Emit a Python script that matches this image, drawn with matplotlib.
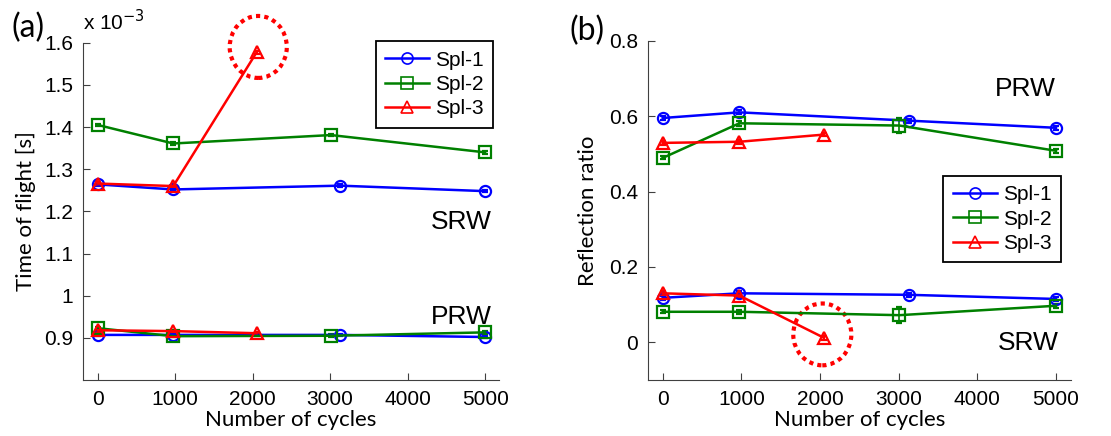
"""Time of flight and reflection ratio versus number of cycles for three samples."""

import matplotlib.pyplot as plt
from matplotlib.lines import Line2D
from matplotlib.patches import Ellipse

# Data (time of flight in units of 1e-3 s)
x_spl1 = [0, 975, 3130, 5000]
x_spl2 = [0, 975, 3010, 5000]
x_spl3 = [0, 975, 2050]

tof_srw_spl1 = [1.264, 1.252, 1.261, 1.248]
tof_srw_spl2 = [1.405, 1.361, 1.381, 1.340]
tof_srw_spl3 = [1.266, 1.260, 1.577]
tof_prw_spl1 = [0.907, 0.907, 0.907, 0.902]
tof_prw_spl2 = [0.923, 0.904, 0.905, 0.913]
tof_prw_spl3 = [0.918, 0.916, 0.911]

rr_prw_spl1 = [0.595, 0.610, 0.588, 0.569]
rr_prw_spl2 = [0.489, 0.581, 0.575, 0.508]
rr_prw_spl3 = [0.529, 0.532, 0.551]
rr_srw_spl1 = [0.118, 0.130, 0.126, 0.115]
rr_srw_spl2 = [0.081, 0.081, 0.072, 0.097]
rr_srw_spl3 = [0.130, 0.124, 0.012]

rr_prw_spl2_err = [0.004, 0.006, 0.020, 0.005]
rr_srw_spl2_err = [0.004, 0.006, 0.022, 0.005]

labels = ["Spl-1", "Spl-2", "Spl-3"]
colors = ["#0000ff", "#008000", "#ff0000"]
markers = ["o", "s", "^"]

TICK_FONT = "Liberation Sans"
LABEL_FONT = "Lato"

fig = plt.figure(figsize=(11.11, 4.36), dpi=100)
ax_a = fig.add_axes([0.0747, 0.1284, 0.3745, 0.7736])
ax_b = fig.add_axes([0.583, 0.1284, 0.381, 0.7782])


def draw(ax, xs, ys, i, yerr):
    ax.errorbar(xs, ys, yerr=yerr, color=colors[i], marker=markers[i], markersize=8,
                markerfacecolor="none", markeredgewidth=1.6, linewidth=1.8,
                capsize=2.5, elinewidth=1.2, capthick=1.2)


def style(ax):
    for s in ["top", "right"]:
        ax.spines[s].set_visible(False)
    for s in ["left", "bottom"]:
        ax.spines[s].set_color("#404040")
    ax.tick_params(direction="in", length=5, color="#404040", labelsize=15, pad=7)
    for lab in ax.get_xticklabels() + ax.get_yticklabels():
        lab.set_fontfamily(TICK_FONT)


def add_legend(ax, anchor):
    handles = [Line2D([], [], color=colors[i], marker=markers[i], markersize=8,
                      markerfacecolor="none", markeredgewidth=1.2, linewidth=1.8)
               for i in range(3)]
    leg = ax.legend(handles, labels, loc="upper right", bbox_to_anchor=anchor,
                    fancybox=False, edgecolor="black", framealpha=1,
                    prop={"family": TICK_FONT, "size": 15}, handlelength=2.1,
                    handletextpad=0.3, borderpad=0.45, labelspacing=0.25,
                    borderaxespad=0)
    leg.get_frame().set_linewidth(1.3)


# Panel (a)
small_a = 0.003
draw(ax_a, x_spl1, tof_srw_spl1, 0, small_a)
draw(ax_a, x_spl2, tof_srw_spl2, 1, small_a)
draw(ax_a, x_spl3, tof_srw_spl3, 2, small_a)
draw(ax_a, x_spl1, tof_prw_spl1, 0, small_a)
draw(ax_a, x_spl2, tof_prw_spl2, 1, small_a)
draw(ax_a, x_spl3, tof_prw_spl3, 2, small_a)
ax_a.set_xlim(-190, 5180)
ax_a.set_ylim(0.8, 1.6)
ax_a.set_xticks([0, 1000, 2000, 3000, 4000, 5000])
ax_a.set_yticks([0.9, 1.0, 1.1, 1.2, 1.3, 1.4, 1.5, 1.6])
ax_a.set_yticklabels(["0.9", "1", "1.1", "1.2", "1.3", "1.4", "1.5", "1.6"])
style(ax_a)
ax_a.set_xlabel("Number of cycles", fontsize=16, fontfamily=LABEL_FONT, labelpad=1)
ax_a.set_ylabel("Time of flight [s]", fontsize=16, fontfamily=LABEL_FONT, labelpad=6)
ax_a.text(0.0, 1.025, "x 10$^{-3}$", transform=ax_a.transAxes, fontsize=15,
          fontfamily=TICK_FONT, va="bottom")
ax_a.text(5087, 1.175, "SRW", fontsize=19, fontfamily=TICK_FONT, ha="right", va="center")
ax_a.text(5087, 0.949, "PRW", fontsize=19, fontfamily=TICK_FONT, ha="right", va="center")
ax_a.add_patch(Ellipse((2072, 1.590), 737, 0.147, fill=False, edgecolor="#ff0000",
                       linestyle=(0, (1, 1)), linewidth=3, clip_on=False))
add_legend(ax_a, (0.986, 1.004))
fig.text(0.010, 0.935, "(a)", fontsize=23, fontfamily=LABEL_FONT, va="center")

# Panel (b)
small_b = 0.005
draw(ax_b, x_spl1, rr_prw_spl1, 0, small_b)
draw(ax_b, x_spl2, rr_prw_spl2, 1, rr_prw_spl2_err)
draw(ax_b, x_spl3, rr_prw_spl3, 2, small_b)
draw(ax_b, x_spl1, rr_srw_spl1, 0, small_b)
draw(ax_b, x_spl2, rr_srw_spl2, 1, rr_srw_spl2_err)
draw(ax_b, x_spl3, rr_srw_spl3, 2, small_b)
ax_b.set_xlim(-190, 5190)
ax_b.set_ylim(-0.1, 0.8)
ax_b.set_xticks([0, 1000, 2000, 3000, 4000, 5000])
ax_b.set_yticks([0, 0.2, 0.4, 0.6, 0.8])
ax_b.set_yticklabels(["0", "0.2", "0.4", "0.6", "0.8"])
style(ax_b)
ax_b.set_xlabel("Number of cycles", fontsize=16, fontfamily=LABEL_FONT, labelpad=1)
ax_b.set_ylabel("Reflection ratio", fontsize=16, fontfamily=LABEL_FONT, labelpad=8)
ax_b.text(4991, 0.671, "PRW", fontsize=19, fontfamily=TICK_FONT, ha="right", va="center")
ax_b.text(5033, -0.003, "SRW", fontsize=19, fontfamily=TICK_FONT, ha="right", va="center")
ax_b.add_patch(Ellipse((2029, 0.021), 738, 0.164, fill=False, edgecolor="#ff0000",
                       linestyle=(0, (1, 1)), linewidth=3, clip_on=False))
add_legend(ax_b, (0.976, 0.601))
fig.text(0.513, 0.928, "(b)", fontsize=23, fontfamily=LABEL_FONT, va="center")

fig.savefig("out.png", dpi=100)
